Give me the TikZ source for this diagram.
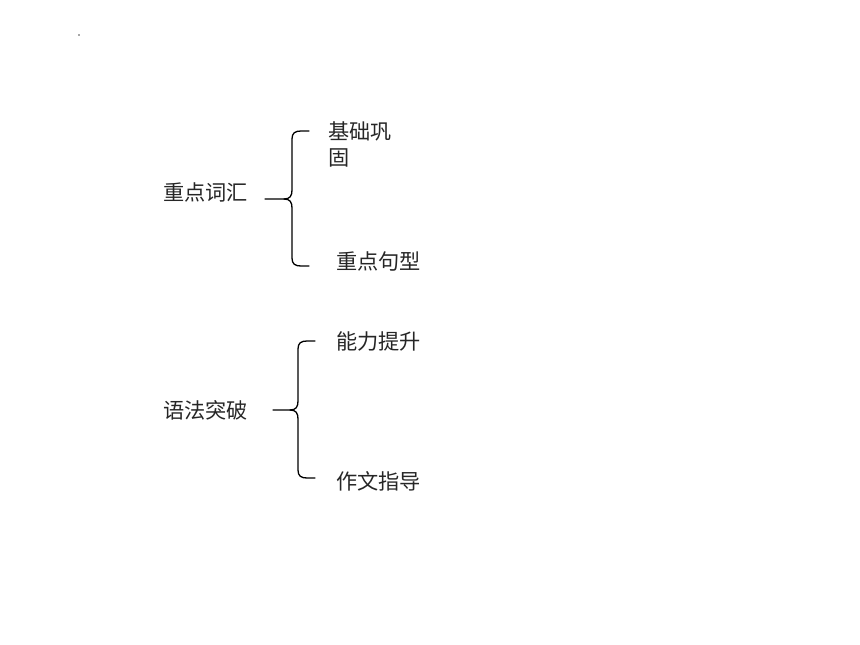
\documentclass[tikz,border=0pt]{standalone}
\usepackage{fontspec}
\newfontfamily\cjk{Noto Sans CJK SC}
\begin{document}
\begin{tikzpicture}[x=1pt,y=-1pt,
  lbl/.style={font=\cjk\fontsize{21.2}{26}\selectfont, inner sep=0pt, anchor=west, align=left, text=black!85},
  brace/.style={draw=black, line width=1.3pt, line cap=round}]
\useasboundingbox (0,0) rectangle (860,645);
\fill[black!70] (79,35) circle (0.8);
% group 1
\node[lbl] (a) at (163,192) {重点词汇};
\node[lbl] (a1) at (328,144) {基础巩\\固};
\node[lbl] (a2) at (336,261) {重点句型};
\coordinate (b1) at (265,199);
\draw[brace] (b1) -- (284,199) .. controls (290,199) and (292,196) .. (292,190) -- (292,139)
  .. controls (292,133) and (295,131) .. (301,131) -- (309,131);
\draw[brace] (284,199) .. controls (290,199) and (292,202) .. (292,208) -- (292,258)
  .. controls (292,264) and (295,266) .. (301,266) -- (309,266);
% group 2
\node[lbl] (c) at (163,410) {语法突破};
\node[lbl] (c1) at (336,341) {能力提升};
\node[lbl] (c2) at (336,481) {作文指导};
\coordinate (b2) at (273,410);
\draw[brace] (b2) -- (290,410) .. controls (296,410) and (298,407) .. (298,401) -- (298,349)
  .. controls (298,343) and (301,341) .. (307,341) -- (315,341);
\draw[brace] (290,410) .. controls (296,410) and (298,413) .. (298,419) -- (298,470)
  .. controls (298,476) and (301,478) .. (307,478) -- (315,478);
\end{tikzpicture}
\end{document}
